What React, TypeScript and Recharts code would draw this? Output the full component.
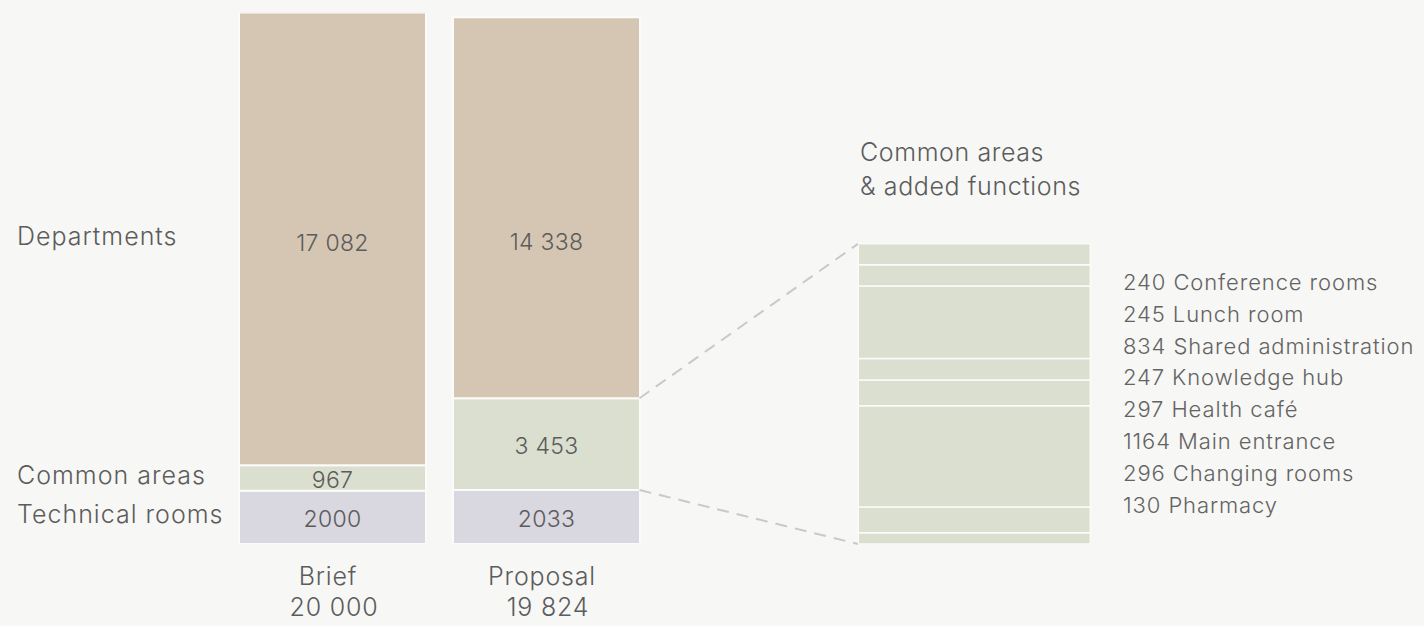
import { Bar, BarChart, LabelList, Legend, Rectangle, ReferenceLine, XAxis, YAxis } from 'recharts'

const BG = '#f7f7f5'
const TEXT = '#5c5c5c'
const DEPT = '#d5c6b3'
const COMMON = '#dbdfd0'
const TECH = '#d9d7df'
const FONT = 'Inter, "Noto Sans", sans-serif'

// main comparison
const MAIN_CATEGORIES = ['Brief', 'Proposal']
const MAIN_TOTALS = ['20 000', '19 824']
const TECHNICAL_VALUES = [2000, 2033]
const COMMON_VALUES = [967, 3453]
const DEPARTMENT_VALUES = [17082, 14338]
const TECHNICAL_LABELS = ['2000', '2033']
const COMMON_LABELS = ['967', '3 453']
const DEPARTMENT_LABELS = ['17 082', '14 338']

// breakdown of the proposal's common areas, top to bottom
const DETAIL_NAMES = [
  'Conference rooms', 'Lunch room', 'Shared administration', 'Knowledge hub',
  'Health café', 'Main entrance', 'Changing rooms', 'Pharmacy',
]
const DETAIL_VALUES = [240, 245, 834, 247, 297, 1164, 296, 130]

const W = 1424
const H = 626
const LEFT = 225
const BAND = 214
const TOP = 12.5
const AXIS_H = 82
const MAIN_BAR = 187
const DETAIL_BAR = 232
const MAIN_MAX = 20000
const DETAIL_MAX = 6114

const SERIES = [
  { key: 'technical', name: 'Technical rooms', fill: TECH, values: TECHNICAL_VALUES, labels: TECHNICAL_LABELS },
  { key: 'common', name: 'Common areas', fill: COMMON, values: COMMON_VALUES, labels: COMMON_LABELS },
  { key: 'departments', name: 'Departments', fill: DEPT, values: DEPARTMENT_VALUES, labels: DEPARTMENT_LABELS },
]

const data: Record<string, any>[] = [
  ...MAIN_CATEGORIES.map((name, i) => ({
    name, pos: i + 0.5,
    technical: TECHNICAL_VALUES[i], common: COMMON_VALUES[i], departments: DEPARTMENT_VALUES[i],
  })),
  { name: 'gap', pos: 2.5 },
  { name: 'detail', pos: 3.5, ...Object.fromEntries(DETAIL_VALUES.map((v, i) => [`d${i}`, v])) },
]

const commonTotal = COMMON_VALUES[1]
const proposalBase = TECHNICAL_VALUES[1]

function valueLabel(s: typeof SERIES[number], si: number) {
  return (props: any) => {
    const { x, y, width, height, index } = props
    if (index > 1) return null
    const value = s.values[index]
    let cy = y + height / 2
    let dy = 10
    if (s.key === 'departments') {
      // department values line up with the Brief row
      const base = TECHNICAL_VALUES[index] + COMMON_VALUES[index]
      const perUnit = height / value
      const bottom = y + height + base * perUnit
      cy = bottom - (TECHNICAL_VALUES[0] + COMMON_VALUES[0] + DEPARTMENT_VALUES[0] / 2) * perUnit
      dy = 12
    }
    return (
      <g key={`${si}-${index}`}>
        <text x={x + width / 2} y={cy + dy} textAnchor="middle" fontSize={23} fontWeight={300} fill={TEXT}
          fontFamily={FONT} letterSpacing={0.3}>
          {s.labels[index]}
        </text>
        {index === 0 && (
          <text x={x - 222} y={y + height / 2 + 6} fontSize={25} fontWeight={300} fill={TEXT}
            fontFamily={FONT} letterSpacing={1}>
            {s.name}
          </text>
        )}
      </g>
    )
  }
}

function CategoryTick({ x, y, payload }: any) {
  const i = MAIN_CATEGORIES.indexOf(payload.value)
  if (i < 0) return <g />
  return (
    <g fontSize={25} fontWeight={300} fill={TEXT} fontFamily={FONT} letterSpacing={0.8}>
      <text x={x - 4} y={y + 41} textAnchor="middle">{MAIN_CATEGORIES[i]}</text>
      <text x={x + 2} y={y + 72} textAnchor="middle">{MAIN_TOTALS[i]}</text>
    </g>
  )
}

// the detail column is wider than a category band allows, so widen it round its centre
function DetailShape(props: any) {
  const { x, width } = props
  return <Rectangle {...props} x={x + width / 2 - DETAIL_BAR / 2} width={DETAIL_BAR} />
}

function DetailList() {
  return (
    <div style={{
      fontFamily: FONT, fontSize: 22, fontWeight: 300, lineHeight: '31.8px', color: '#636363',
      whiteSpace: 'nowrap', letterSpacing: 0.9,
    }}>
      {DETAIL_NAMES.map((n, i) => (
        <div key={n}>{DETAIL_VALUES[i]} {n}</div>
      ))}
    </div>
  )
}

export default function App() {
  const plotW = BAND * 4
  const rightEdge = 1.5 + MAIN_BAR / 2 / BAND
  const detailEdge = 3.5 - DETAIL_BAR / 2 / BAND
  const detailTopInMain = commonTotal * MAIN_MAX / DETAIL_MAX

  return (
    <div style={{ position: 'absolute', left: 0, top: 0, width: W, height: H, background: BG, fontFamily: FONT }}>
      <div style={{
        position: 'absolute', left: 860, top: 135, fontSize: 25, fontWeight: 300, lineHeight: '34px',
        color: TEXT, letterSpacing: 0.6,
      }}>
        Common areas<br />&amp; added functions
      </div>
      <BarChart
        width={W}
        height={H}
        data={data}
        margin={{ top: TOP, right: W - LEFT - plotW, bottom: 0, left: LEFT }}
      >
        <XAxis
          xAxisId="a" dataKey="name" height={AXIS_H} axisLine={false} tickLine={false}
          tickSize={0} tickMargin={0} interval={0} tick={<CategoryTick />}
        />
        <XAxis xAxisId="b" dataKey="name" hide />
        <XAxis xAxisId="n" dataKey="pos" type="number" domain={[0, 4]} allowDataOverflow hide />
        <YAxis yAxisId="a" domain={[0, MAIN_MAX]} allowDataOverflow hide />
        <YAxis yAxisId="b" domain={[0, DETAIL_MAX]} allowDataOverflow hide />

        {SERIES.map((s, si) => (
          <Bar
            key={s.key} dataKey={s.key} name={s.name} stackId="main" xAxisId="a" yAxisId="a"
            barSize={MAIN_BAR} fill={s.fill} stroke="#fbfbf9" strokeWidth={2} isAnimationActive={false}
          >
            <LabelList dataKey={s.key} content={valueLabel(s, si)} />
          </Bar>
        ))}

        {DETAIL_VALUES.map((_, i) => DETAIL_VALUES.length - 1 - i).map(i => (
          <Bar
            key={`d${i}`} dataKey={`d${i}`} name={DETAIL_NAMES[i]} stackId="detail" xAxisId="b" yAxisId="b"
            barSize={DETAIL_BAR} fill={COMMON} stroke="#fbfbf9" strokeWidth={1.5} isAnimationActive={false}
            shape={<DetailShape />}
          />
        ))}

        <ReferenceLine
          xAxisId="n" yAxisId="a" ifOverflow="visible" stroke="#c9c9c7" strokeWidth={2} strokeDasharray="12 8"
          segment={[{ x: rightEdge, y: proposalBase + commonTotal }, { x: detailEdge, y: detailTopInMain }]}
        />
        <ReferenceLine
          xAxisId="n" yAxisId="a" ifOverflow="visible" stroke="#c9c9c7" strokeWidth={2} strokeDasharray="12 8"
          segment={[{ x: rightEdge, y: proposalBase }, { x: detailEdge, y: 0 }]}
        />

        <Legend
          layout="vertical" align="center" verticalAlign="middle"
          wrapperStyle={{ position: 'absolute', left: 1123, top: 267, width: 300 }}
          content={<DetailList />}
        />
      </BarChart>
    </div>
  )
}
